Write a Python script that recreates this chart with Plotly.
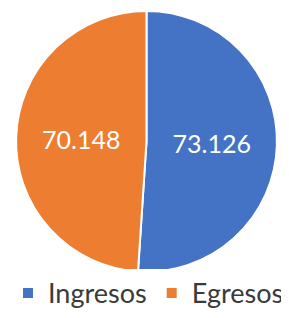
import plotly.graph_objects as go

labels = ["Ingresos", "Egresos"]
values = [73126, 70148]
colors = ["#4472C4", "#ED7D31"]

# page body has an 8px margin, so the figure is drawn offset by 8px
OFF = 8
W, H = 289 - OFF, 318 - OFF
fig = go.Figure(go.Pie(
    labels=labels,
    values=values,
    sort=False,
    direction="clockwise",
    rotation=0,
    marker=dict(colors=colors, line=dict(color="white", width=2)),
    textinfo="value",
    textposition="inside",
    insidetextorientation="horizontal",
    textfont=dict(color="white", size=25, family="Lato"),
    hoverinfo="label+value",
    domain=dict(x=[(14 - OFF)/W, (279 - OFF)/W], y=[(H - (277 - OFF))/H, (H - (11 - OFF))/H]),
))
fig.update_layout(
    width=W, height=H,
    separators=",.",
    margin=dict(l=0, r=0, t=0, b=0),
    paper_bgcolor="white",
    plot_bgcolor="white",
    showlegend=True,
    legend=dict(orientation="h", x=0.5, xanchor="center", y=(H - (299 - OFF))/H, yanchor="middle",
                font=dict(size=27, color="#3a3a3a", family="Lato"),
                itemwidth=30, traceorder="normal"),
)
fig.write_html("out.html")
